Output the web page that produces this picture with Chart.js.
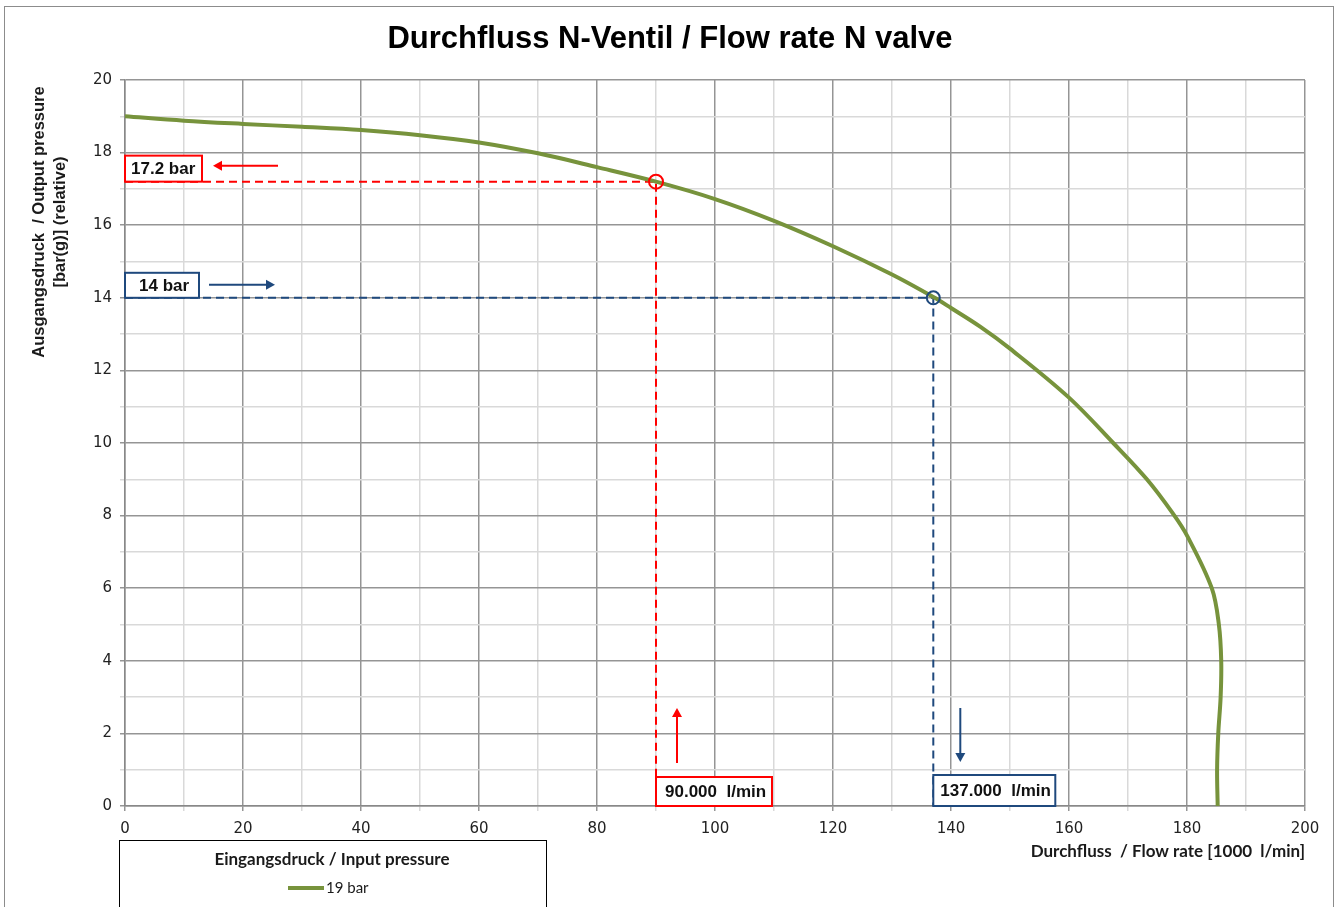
<!DOCTYPE html>
<html>
<head>
<meta charset="utf-8">
<title>Durchfluss N-Ventil</title>
<script src="https://cdn.jsdelivr.net/npm/chart.js@4.4.0/dist/chart.umd.min.js"></script>
<style>
  html, body { margin: 0; padding: 0; background: #fff; }
</style>
</head>
<body>
<canvas id="flowChart" width="1336" height="907"></canvas>
<script>
// curve for 19 bar input pressure (flow in 1000 l/min, pressure in bar(g))
const flowRate = [0, 10, 20, 30, 40, 50, 60, 70, 80, 90, 100, 110, 120, 130, 137, 140, 145, 150, 160, 167.5, 173.2, 177.6, 180.1, 184.2, 185.4, 185.8, 185.7, 185.3, 185.1, 185.2];
const outputPressure = [19.0, 18.88, 18.79, 18.71, 18.62, 18.48, 18.28, 17.98, 17.6, 17.2, 16.72, 16.12, 15.42, 14.64, 14.02, 13.72, 13.2, 12.6, 11.25, 10.0, 9.0, 8.06, 7.42, 6.0, 5.0, 4.0, 3.0, 2.0, 1.0, 0];

// read-off markers
const markFlow = [90, 137];
const markPressure = [17.2, 14];
const pressureLabels = ['17.2 bar', '14 bar'];
const flowLabels = ['90.000  l/min', '137.000  l/min'];
const markColors = ['#ff0000', '#1f497d'];

const seriesLabel = '19 bar';
const legendTitle = 'Eingangsdruck / Input pressure';
const chartTitle = 'Durchfluss N-Ventil / Flow rate N valve';
const yTitle = ['Ausgangsdruck  / Output pressure', '[bar(g)] (relative)'];
const xTitle = 'Durchfluss  / Flow rate [1000  l/min]';

const curveColor = '#77933c';
const majorGrid = '#959595';
const minorGrid = '#d9d9d9';

const curvePoints = flowRate.map((f, i) => ({ x: f, y: outputPressure[i] }));

const guideSets = markFlow.map((f, i) => ({
  data: [{ x: 0, y: markPressure[i] }, { x: f, y: markPressure[i] }, { x: f, y: 0 }],
  borderColor: markColors[i],
  borderWidth: 2,
  borderDash: [8, 5],
  pointRadius: 0,
  tension: 0,
  showLine: true,
  order: 3
}));

const markerSets = markFlow.map((f, i) => ({
  data: [{ x: f, y: markPressure[i] }],
  borderColor: markColors[i],
  pointBorderColor: markColors[i],
  pointBackgroundColor: 'rgba(0,0,0,0)',
  pointRadius: i === 0 ? 7 : 6.5,
  pointBorderWidth: 2,
  showLine: false,
  order: 0
}));

const arrow = (ctx, x1, y1, x2, y2, color) => {
  const ang = Math.atan2(y2 - y1, x2 - x1);
  const head = 9, half = 5;
  ctx.save();
  ctx.strokeStyle = color;
  ctx.fillStyle = color;
  ctx.lineWidth = 2;
  ctx.beginPath();
  ctx.moveTo(x1, y1);
  ctx.lineTo(x2 - Math.cos(ang) * head, y2 - Math.sin(ang) * head);
  ctx.stroke();
  ctx.beginPath();
  ctx.moveTo(x2, y2);
  ctx.lineTo(x2 - Math.cos(ang) * head - Math.sin(ang) * half, y2 - Math.sin(ang) * head + Math.cos(ang) * half);
  ctx.lineTo(x2 - Math.cos(ang) * head + Math.sin(ang) * half, y2 - Math.sin(ang) * head - Math.cos(ang) * half);
  ctx.closePath();
  ctx.fill();
  ctx.restore();
};

const labelBox = (ctx, x, y, w, h, text, color, textX) => {
  ctx.save();
  ctx.fillStyle = '#fff';
  ctx.fillRect(x, y, w, h);
  ctx.strokeStyle = color;
  ctx.lineWidth = 2;
  ctx.strokeRect(x, y, w, h);
  ctx.fillStyle = '#111';
  ctx.font = 'bold 17px "Liberation Sans", Arial, sans-serif';
  ctx.textBaseline = 'middle';
  ctx.textAlign = 'left';
  ctx.fillText(text, textX, y + h / 2 + 1);
  ctx.restore();
};

const decorPlugin = {
  id: 'decor',
  beforeDraw(chart) {
    const ctx = chart.ctx;
    ctx.save();
    ctx.fillStyle = '#fff';
    ctx.fillRect(0, 0, chart.width, chart.height);
    ctx.strokeStyle = '#8c8c8c';
    ctx.lineWidth = 1;
    ctx.strokeRect(4.5, 6.5, 1329, 920);
    // chart title
    ctx.fillStyle = '#000';
    ctx.font = 'bold 31px "Liberation Sans", Arial, sans-serif';
    ctx.textAlign = 'center';
    ctx.textBaseline = 'middle';
    ctx.fillText(chartTitle, 670, 39);
    // y axis title
    ctx.translate(0, 222);
    ctx.rotate(-Math.PI / 2);
    ctx.font = 'bold 16.5px "Liberation Sans", Arial, sans-serif';
    ctx.fillStyle = '#1a1a1a';
    ctx.fillText(yTitle[0], 0, 39);
    ctx.fillText(yTitle[1], 0, 60);
    ctx.restore();
  },
  afterDatasetsDraw(chart) {
    const ctx = chart.ctx;
    const xs = chart.scales.x, ys = chart.scales.y;
    const left = xs.getPixelForValue(0);
    const bottom = ys.getPixelForValue(0);

    // pressure boxes at the y axis
    const p0 = ys.getPixelForValue(markPressure[0]);
    labelBox(ctx, left, p0 - 26, 77, 26, pressureLabels[0], markColors[0], left + 6);
    arrow(ctx, left + 153, p0 - 16, left + 88, p0 - 16, markColors[0]);
    const p1 = ys.getPixelForValue(markPressure[1]);
    labelBox(ctx, left, p1 - 25, 74, 25, pressureLabels[1], markColors[1], left + 14);
    arrow(ctx, left + 84, p1 - 13, left + 150, p1 - 13, markColors[1]);

    // flow boxes at the x axis
    const f0 = xs.getPixelForValue(markFlow[0]);
    labelBox(ctx, f0, bottom - 29, 116, 29, flowLabels[0], markColors[0], f0 + 9);
    arrow(ctx, f0 + 21, bottom - 43, f0 + 21, bottom - 98, markColors[0]);
    const f1 = xs.getPixelForValue(markFlow[1]);
    labelBox(ctx, f1, bottom - 31, 122, 31, flowLabels[1], markColors[1], f1 + 7);
    arrow(ctx, f1 + 27, bottom - 98, f1 + 27, bottom - 44, markColors[1]);
  },
  afterDraw(chart) {
    const ctx = chart.ctx;
    ctx.save();
    // legend box
    ctx.strokeStyle = '#000';
    ctx.lineWidth = 1;
    ctx.strokeRect(119.5, 840.5, 427, 100);
    ctx.fillStyle = '#1a1a1a';
    ctx.font = 'bold 17px Lato, "Open Sans", sans-serif';
    ctx.textAlign = 'center';
    ctx.textBaseline = 'middle';
    ctx.fillText(legendTitle, 332, 860);
    ctx.strokeStyle = curveColor;
    ctx.lineWidth = 4;
    ctx.beginPath();
    ctx.moveTo(288, 888);
    ctx.lineTo(324, 888);
    ctx.stroke();
    ctx.font = '15px Lato, "Open Sans", sans-serif';
    ctx.textAlign = 'left';
    ctx.fillText(seriesLabel, 326, 888);
    ctx.restore();
  }
};

new Chart(document.getElementById('flowChart').getContext('2d'), {
  type: 'scatter',
  data: {
    datasets: [
      ...markerSets,
      {
        label: seriesLabel,
        data: curvePoints,
        borderColor: curveColor,
        borderWidth: 4,
        pointRadius: 0,
        showLine: true,
        tension: 0.35,
        order: 1
      },
      ...guideSets
    ]
  },
  options: {
    responsive: false,
    animation: false,
    events: [],
    layout: { padding: { left: 0, right: 31, top: 80, bottom: 0 } },
    plugins: {
      legend: { display: false },
      title: { display: false },
      tooltip: { enabled: false }
    },
    scales: {
      x: {
        type: 'linear',
        min: 0,
        max: 200,
        afterFit: (scale) => { scale.height = 101; },
        ticks: {
          stepSize: 10,
          padding: 9,
          color: '#222',
          font: { family: '"DejaVu Sans", Verdana, sans-serif', size: 15 },
          callback: (v) => (v % 20 === 0 ? v : '')
        },
        grid: {
          tickLength: 5,
          lineWidth: 1.5,
          color: (c) => (c.tick && c.tick.value % 20 === 0 ? majorGrid : minorGrid)
        },
        border: { color: '#888', width: 1.5 },
        title: {
          display: true,
          text: xTitle,
          align: 'end',
          color: '#1a1a1a',
          font: { family: 'Lato, "Open Sans", sans-serif', size: 17, weight: 'bold' },
          padding: { top: 0, bottom: 45 }
        }
      },
      y: {
        type: 'linear',
        min: 0,
        max: 20,
        afterFit: (scale) => { scale.width = 125; },
        ticks: {
          stepSize: 1,
          padding: 8,
          color: '#222',
          font: { family: '"DejaVu Sans", Verdana, sans-serif', size: 15 },
          callback: (v) => (v % 2 === 0 ? v : '')
        },
        grid: {
          tickLength: 5,
          lineWidth: 1.5,
          color: (c) => (c.tick && c.tick.value % 2 === 0 ? majorGrid : minorGrid)
        },
        border: { color: '#888', width: 1.5 }
      }
    }
  },
  plugins: [decorPlugin]
});
</script>
</body>
</html>
